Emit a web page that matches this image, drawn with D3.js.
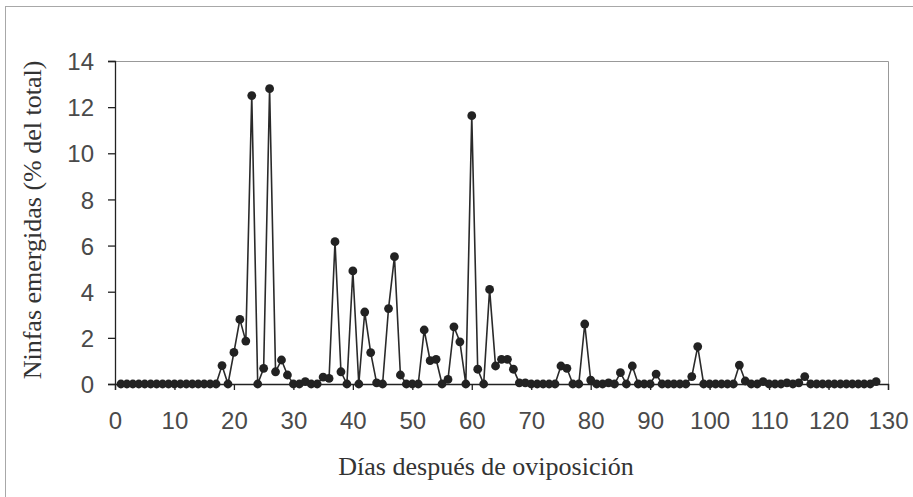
<!DOCTYPE html>
<html>
<head>
<meta charset="utf-8">
<script src="https://cdn.jsdelivr.net/npm/d3@7"></script>
<style>
  body { margin: 0; background: #fff; }
  .tick-label { font-family: "Liberation Sans", Arial, sans-serif; font-size: 24px; fill: #4a4a4a; }
  .axis-title { font-family: "Liberation Serif", "Times New Roman", serif; font-size: 26px; fill: #333; }
</style>
</head>
<body>
<div id="chart-area"></div>
<script>
// NINFAS EMERGIDAS POR DIA

const WIDTH = 913
const HEIGHT = 497
const PLOT = { LEFT: 115, RIGHT: 888, TOP: 61, BOTTOM: 384 }

// data
const days = [
  1, 2, 3, 4, 5, 6, 7, 8, 9, 10, 11, 12, 13, 14, 15, 16, 17, 18, 19, 20,
  21, 22, 23, 24, 25, 26, 27, 28, 29, 30, 31, 32, 33, 34, 35, 36, 37, 38, 39, 40,
  41, 42, 43, 44, 45, 46, 47, 48, 49, 50, 51, 52, 53, 54, 55, 56, 57, 58, 59, 60,
  61, 62, 63, 64, 65, 66, 67, 68, 69, 70, 71, 72, 73, 74, 75, 76, 77, 78, 79, 80,
  81, 82, 83, 84, 85, 86, 87, 88, 89, 90, 91, 92, 93, 94, 95, 96, 97, 98, 99, 100,
  101, 102, 103, 104, 105, 106, 107, 108, 109, 110, 111, 112, 113, 114, 115, 116, 117, 118, 119, 120,
  121, 122, 123, 124, 125, 126, 127, 128
]
const ninfas = [
  0, 0, 0, 0, 0, 0, 0, 0, 0, 0, 0, 0, 0, 0, 0, 0, 0, 0.8, 0, 1.37,
  2.8, 1.86, 12.5, 0, 0.68, 12.8, 0.53, 1.04, 0.39, 0, 0, 0.1, 0, 0, 0.3, 0.24, 6.17, 0.53, 0, 4.9,
  0, 3.12, 1.36, 0.05, 0, 3.27, 5.52, 0.39, 0, 0, 0, 2.34, 1.01, 1.07, 0, 0.2, 2.48, 1.83, 0, 11.63,
  0.64, 0, 4.1, 0.78, 1.07, 1.07, 0.64, 0.05, 0.05, 0, 0, 0, 0, 0, 0.78, 0.68, 0, 0, 2.6, 0.17,
  0, 0, 0.05, 0, 0.49, 0, 0.78, 0, 0, 0, 0.43, 0, 0, 0, 0, 0, 0.32, 1.62, 0, 0,
  0, 0, 0, 0, 0.82, 0.13, 0, 0, 0.1, 0, 0, 0, 0.05, 0, 0.05, 0.32, 0, 0, 0, 0,
  0, 0, 0, 0, 0, 0, 0, 0.1
]
const xTicks = [0, 10, 20, 30, 40, 50, 60, 70, 80, 90, 100, 110, 120, 130]
const yTicks = [0, 2, 4, 6, 8, 10, 12, 14]

const data = days.map((d, i) => ({ day: d, value: ninfas[i] }))

const svg = d3.select("#chart-area").append("svg")
    .attr("width", WIDTH)
    .attr("height", HEIGHT)

// outer chart border (clipped on right / bottom like the scan)
svg.append("rect")
    .attr("x", 5.5).attr("y", 6.5)
    .attr("width", 930).attr("height", 520)
    .attr("fill", "none")
    .attr("stroke", "#a8a8a8")
    .attr("stroke-width", 1)

const x = d3.scaleLinear()
    .domain([0, 130])
    .range([PLOT.LEFT, PLOT.RIGHT])

const y = d3.scaleLinear()
    .domain([0, 14])
    .range([PLOT.BOTTOM, PLOT.TOP])

// plot area frame (top + right, grey)
svg.append("path")
    .attr("d", `M${PLOT.LEFT},${y(14) + 0.5} H${PLOT.RIGHT + 0.5} V${PLOT.BOTTOM}`)
    .attr("fill", "none")
    .attr("stroke", "#999")
    .attr("stroke-width", 1)

// y axis
const yAxis = d3.axisLeft(y)
    .tickValues(yTicks)
    .tickSize(7)
    .tickPadding(14)
svg.append("g")
    .attr("class", "y-axis")
    .attr("transform", `translate(${PLOT.LEFT}, 0)`)
    .call(yAxis)

// x axis
const xAxis = d3.axisBottom(x)
    .tickValues(xTicks)
    .tickSize(6)
    .tickPadding(22)
svg.append("g")
    .attr("class", "x-axis")
    .attr("transform", `translate(0, ${PLOT.BOTTOM})`)
    .call(xAxis)

svg.selectAll(".domain, .tick line")
    .attr("stroke", "#222")
    .attr("stroke-width", 1.3)
svg.selectAll(".tick text")
    .attr("class", "tick-label")
    .attr("font-family", null)
    .attr("font-size", null)
    .attr("fill", null)
svg.select(".y-axis").selectAll(".tick text").attr("dy", "0.36em")
svg.select(".x-axis").selectAll(".tick text").attr("dy", "0.71em")

// line
const line = d3.line()
    .x(d => x(d.day))
    .y(d => y(d.value))

svg.append("path")
    .datum(data)
    .attr("d", line)
    .attr("fill", "none")
    .attr("stroke", "#2a2a2a")
    .attr("stroke-width", 1.6)

// markers
svg.append("g")
    .selectAll("circle")
    .data(data)
    .enter().append("circle")
    .attr("cx", d => x(d.day))
    .attr("cy", d => y(d.value))
    .attr("r", 4.4)
    .attr("fill", "#222")

// titles
svg.append("text")
    .attr("class", "axis-title")
    .attr("x", 486)
    .attr("y", 475)
    .attr("text-anchor", "middle")
    .text("Días después de oviposición")

svg.append("text")
    .attr("class", "axis-title")
    .attr("transform", `translate(41, 220) rotate(-90)`)
    .attr("text-anchor", "middle")
    .text("Ninfas emergidas (% del total)")
</script>
</body>
</html>
